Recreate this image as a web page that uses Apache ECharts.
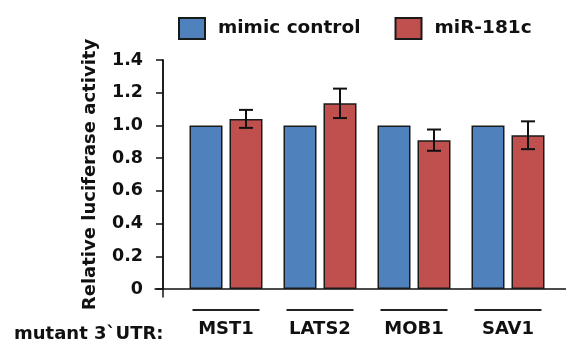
<!DOCTYPE html>
<html>
<head>
<meta charset="utf-8">
<script src="https://cdn.jsdelivr.net/npm/echarts@6/dist/echarts.min.js"></script>
<style>
  html, body { margin: 0; padding: 0; background: #fff; }
  #chart { width: 566px; height: 347px; }
</style>
</head>
<body>
<div id="chart"></div>
<script>
    // data
    var categories = ['MST1', 'LATS2', 'MOB1', 'SAV1'];
    var seriesNames = ['mimic control', 'miR-181c'];
    var controlValues = [1.0, 1.0, 1.0, 1.0];
    var mirValues = [1.04, 1.135, 0.91, 0.94];
    var mirErrors = [0.055, 0.09, 0.065, 0.085];
    var yTickLabels = ['0', '0.2', '0.4', '0.6', '0.8', '1.0', '1.2', '1.4'];

    var FONT = '"DejaVu Sans", sans-serif';
    var BAR_W = 33;
    var BAR_GAP_PX = 7;
    var AXIS_COLOR = '#111';

    var myChart = echarts.init(document.getElementById('chart'));

    var option = {
        animation: false,
        textStyle: { fontFamily: FONT },
        title: {
            text: 'mutant 3`UTR:',
            left: 9,
            top: 320,
            textStyle: { fontFamily: FONT, fontSize: 18, fontWeight: 'bold', color: '#111' }
        },
        legend: {
            left: 173,
            top: 12,
            icon: 'rect',
            itemWidth: 26,
            itemHeight: 21,
            itemGap: 34,
            data: seriesNames,
            textStyle: { fontFamily: FONT, fontSize: 18.5, fontWeight: 'bold', color: '#111', padding: [0, 0, 0, 8] }
        },
        grid: [
            { left: 179, right: 11, top: 60, bottom: 58 },
            // grid 1: only the x axis line, running out to the tick at the left
            { left: 155, right: 0, top: 60, bottom: 58 },
            // grid 2: only the y axis line, poking a little below the x axis
            { left: 163, right: 0, top: 60, bottom: 50 }
        ],
        xAxis: [
            {
                type: 'category',
                data: categories,
                gridIndex: 0,
                axisLine: { show: false },
                axisTick: { show: false },
                axisLabel: {
                    margin: 20,
                    interval: 0,
                    formatter: function (v) { return '{bar|}\n{name|' + v + '}'; },
                    rich: {
                        bar: { width: 67, height: 2, lineHeight: 2, backgroundColor: '#222' },
                        name: { fontFamily: FONT, fontSize: 18, fontWeight: 'bold', color: '#111', lineHeight: 36 }
                    }
                }
            },
            {
                type: 'value',
                gridIndex: 1,
                min: 0,
                max: 1,
                axisLine: { show: true, onZero: false, lineStyle: { color: AXIS_COLOR, width: 1.5 } },
                axisTick: { show: false },
                axisLabel: { show: false },
                splitLine: { show: false }
            },
            {
                type: 'value',
                gridIndex: 2,
                min: 0,
                max: 1,
                axisLine: { show: false },
                axisTick: { show: false },
                axisLabel: { show: false },
                splitLine: { show: false }
            }
        ],
        yAxis: [
            {
                type: 'value',
                gridIndex: 0,
                min: 0,
                max: 1.4,
                interval: 0.2,
                offset: 16,
                name: 'Relative luciferase activity',
                nameLocation: 'middle',
                nameGap: 64,
                nameTextStyle: { fontFamily: FONT, fontSize: 18, fontWeight: 'bold', color: '#111' },
                axisLine: { show: true, lineStyle: { color: AXIS_COLOR, width: 1.5 } },
                axisTick: { show: true, length: 7, lineStyle: { color: AXIS_COLOR, width: 1.5 } },
                axisLabel: {
                    margin: 20,
                    fontFamily: FONT,
                    fontSize: 17.5,
                    fontWeight: 'bold',
                    color: '#111',
                    formatter: function (v) { return yTickLabels[Math.round(v / 0.2)]; }
                },
                splitLine: { show: false }
            },
            {
                type: 'value',
                gridIndex: 1,
                min: 0,
                max: 1,
                axisLine: { show: false },
                axisTick: { show: false },
                axisLabel: { show: false },
                splitLine: { show: false }
            },
            {
                type: 'value',
                gridIndex: 2,
                min: 0,
                max: 1,
                axisLine: { show: true, onZero: false, lineStyle: { color: AXIS_COLOR, width: 1.5 } },
                axisTick: { show: false },
                axisLabel: { show: false },
                splitLine: { show: false }
            }
        ],
        series: [
            {
                name: seriesNames[0],
                type: 'bar',
                data: controlValues,
                barWidth: BAR_W,
                barGap: (BAR_GAP_PX / BAR_W * 100) + '%',
                itemStyle: { color: '#4f81bd', borderColor: '#1a1a1a', borderWidth: 1.5 }
            },
            {
                name: seriesNames[1],
                type: 'bar',
                data: mirValues,
                barWidth: BAR_W,
                itemStyle: { color: '#c0504d', borderColor: '#1a1a1a', borderWidth: 1.5 }
            },
            {
                type: 'custom',
                data: mirValues.map(function (v, i) { return [i, v - mirErrors[i], v + mirErrors[i]]; }),
                renderItem: function (params, api) {
                    var lo = api.coord([api.value(0), api.value(1)]);
                    var hi = api.coord([api.value(0), api.value(2)]);
                    var x = lo[0] + (BAR_W + BAR_GAP_PX) / 2;
                    var cap = 7;
                    var style = { stroke: '#111', lineWidth: 2 };
                    return {
                        type: 'group',
                        children: [
                            { type: 'line', shape: { x1: x, y1: lo[1], x2: x, y2: hi[1] }, style: style },
                            { type: 'line', shape: { x1: x - cap, y1: hi[1], x2: x + cap, y2: hi[1] }, style: style },
                            { type: 'line', shape: { x1: x - cap, y1: lo[1], x2: x + cap, y2: lo[1] }, style: style }
                        ]
                    };
                },
                z: 5
            }
        ]
    };

    myChart.setOption(option);
</script>
</body>
</html>
